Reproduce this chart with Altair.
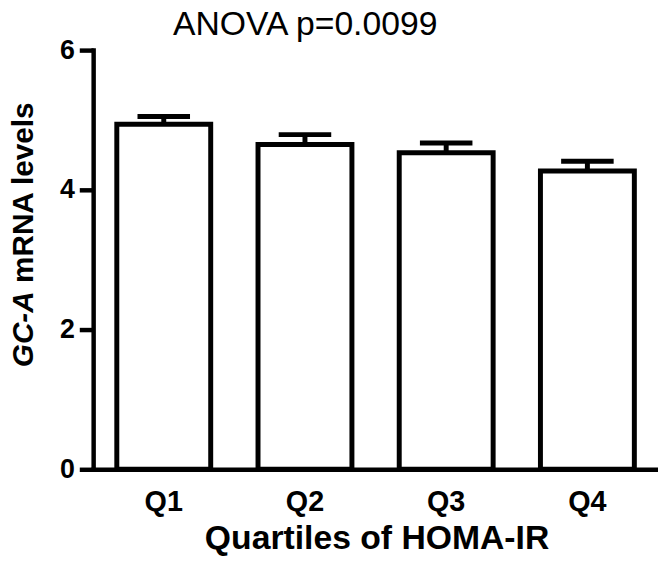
import altair as alt
import pandas as pd

# ---- data ----
quartiles = ["Q1", "Q2", "Q3", "Q4"]
means = [4.94, 4.65, 4.53, 4.27]
sems = [0.11, 0.14, 0.14, 0.14]
y_ticks = [0, 2, 4, 6]
title_text = "ANOVA p=0.0099"
x_title = "Quartiles of HOMA-IR"
y_title_italic = "GC-A"
y_title_rest = "mRNA levels"

df = pd.DataFrame({"q": quartiles, "mean": means, "sem": sems})
df["upper"] = df["mean"] + df["sem"]

FONT = "Liberation Sans"

x_scale = alt.Scale(paddingInner=0.335, paddingOuter=0.1675)
y_scale = alt.Scale(domain=[0, 6], nice=False, zero=True)

x_axis = alt.Axis(title=x_title, labelAngle=0, ticks=False)
y_axis = alt.Axis(title=None, values=y_ticks, format="d", grid=False)

x_enc = alt.X("q:N", sort=quartiles, scale=x_scale, axis=x_axis)

bars = alt.Chart(df).mark_bar(
    fill="white", stroke="black", strokeWidth=5, strokeJoin="miter"
).encode(
    x=x_enc,
    y=alt.Y("mean:Q", scale=y_scale, axis=y_axis),
)

stems = alt.Chart(df).mark_rule(color="black", strokeWidth=5).encode(
    x=x_enc,
    y=alt.Y("mean:Q", scale=y_scale, axis=y_axis),
    y2="upper:Q",
)

caps = alt.Chart(df).mark_tick(color="black", thickness=5, size=53, opacity=1).encode(
    x=x_enc,
    y=alt.Y("upper:Q", scale=y_scale, axis=y_axis),
)

title_mark = alt.Chart(pd.DataFrame({"t": [title_text]})).mark_text(
    font=FONT, fontSize=34, color="black", align="center", baseline="alphabetic"
).encode(text="t:N", x=alt.value(214), y=alt.value(-15))

ytitle_a = alt.Chart(pd.DataFrame({"t": [y_title_italic]})).mark_text(
    font=FONT, fontSize=30, fontWeight="bold", fontStyle="italic", color="black",
    align="left", baseline="alphabetic", angle=270
).encode(text="t:N", x=alt.value(-61), y=alt.value(320))

ytitle_b = alt.Chart(pd.DataFrame({"t": [y_title_rest]})).mark_text(
    font=FONT, fontSize=30, fontWeight="bold", color="black",
    align="left", baseline="alphabetic", angle=270
).encode(text="t:N", x=alt.value(-61), y=alt.value(235))

chart = (
    alt.layer(bars, stems, caps, title_mark, ytitle_a, ytitle_b)
    .properties(
        width=570,
        height=423,
        autosize=alt.AutoSizeParams(type="none"),
        padding={"left": 94, "top": 48, "right": 0, "bottom": 91},
        background="white",
    )
    .configure_view(stroke=None)
    .configure_axis(
        domainColor="black",
        domainWidth=4.5,
        domainCap="square",
        tickColor="black",
        tickWidth=4.5,
        labelFont=FONT,
        labelFontWeight="bold",
        labelColor="black",
        titleFont=FONT,
        titleFontWeight="bold",
        titleColor="black",
    )
    .configure_axisX(
        labelFontSize=29,
        labelPadding=19,
        titleFontSize=34,
        titleBaseline="alphabetic",
        titleAnchor="middle",
        titleX=286,
        titleY=80,
    )
    .configure_axisY(
        labelFontSize=27,
        labelPadding=5,
        tickSize=14,
    )
)

chart.save("out.html", embed_options={"renderer": "svg", "actions": False})
